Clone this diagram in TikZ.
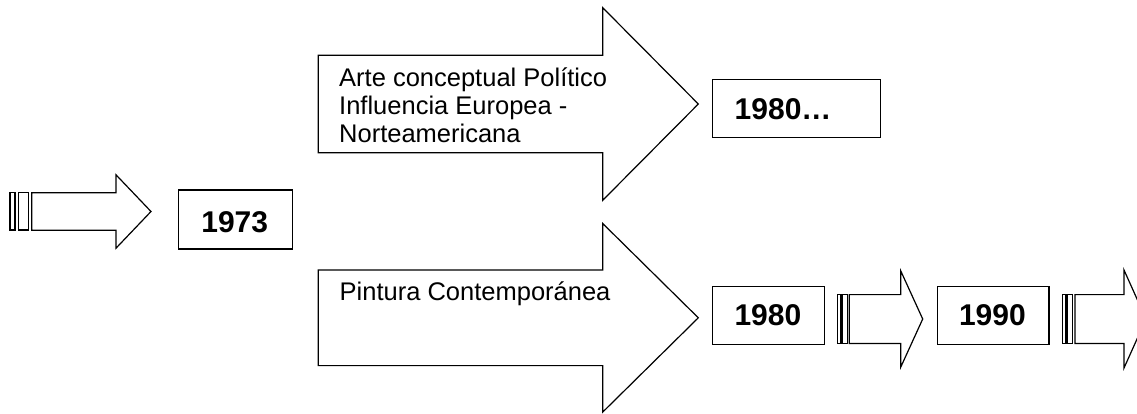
\documentclass[tikz,border=0pt]{standalone}
\usepackage{fontspec}
\setmainfont{Liberation Sans}
\tikzset{
  outl/.style={draw=black, line width=1.2pt, fill=white, line join=miter},
  yearbox/.style={draw=black, line width=1.2pt, fill=white, inner sep=0pt, anchor=north west},
  yeartext/.style={font=\fontsize{30}{36}\selectfont\bfseries, inner sep=0pt, anchor=base},
  labeltext/.style={font=\fontsize{25.5}{28}\selectfont, inner sep=0pt, anchor=base west},
}
% block arrow: x0, x of head base, x of tip, y centre, shaft half height, head half height
\newcommand{\blkarrow}[6]{%
  \draw[outl] (#1,#4-#5) -- (#2,#4-#5) -- (#2,#4-#6) -- (#3,#4) -- (#2,#4+#6) -- (#2,#4+#5) -- (#1,#4+#5) -- cycle;}
\begin{document}
\begin{tikzpicture}[x=1pt,y=-1pt]
\useasboundingbox (0,0) rectangle (1137,413);
\clip (0,0) rectangle (1137,413);

% striped arrow 1
\draw[outl] (10,192.7) rectangle (15,230);
\draw[outl] (18.3,192.7) rectangle (28.3,230);
\blkarrow{31.7}{116}{151}{211.5}{18.7}{36.7}

% 1973 box
\node[yearbox, minimum width=114pt, minimum height=59pt] (b1973) at (177.7,189.3) {};
\node[yeartext] (t1973) at (234.7,232.5) {1973};

% big arrow top
\blkarrow{318.3}{602.7}{698.3}{104}{48.7}{96.3}
\node[labeltext] (l1) at (339,86.7) {Arte conceptual Político};
\node[labeltext] (l2) at (339,114.3) {Influencia Europea -};
\node[labeltext] (l3) at (339,142) {Norteamericana};

% big arrow bottom
\blkarrow{318.3}{602.7}{698.3}{317.8}{47.8}{94.3}
\node[labeltext] (l4) at (339.5,300.6) {Pintura Contemporánea};

% 1980... box
\node[yearbox, minimum width=168.3pt, minimum height=57.7pt] (b1980a) at (711.7,79) {};
\node[yeartext, anchor=base west] (t1980a) at (734.5,119) {1980…};

% 1980 box
\node[yearbox, minimum width=112.3pt, minimum height=57.5pt] (b1980) at (711.7,286) {};
\node[yeartext] (t1980) at (767.9,325.2) {1980};

% striped arrow 2
\draw[outl] (837.3,294.5) rectangle (840.7,343.3);
\draw[outl] (841.9,294.5) rectangle (847.3,343.3);
\blkarrow{849.3}{900.7}{922.7}{319}{24.4}{48.2}

% 1990 box
\node[yearbox, minimum width=111.8pt, minimum height=57.5pt] (b1990) at (936.5,286) {};
\node[yeartext] (t1990) at (992.4,325.2) {1990};

% striped arrow 3
\draw[outl] (1062.3,294.5) rectangle (1066,343.3);
\draw[outl] (1067.3,294.5) rectangle (1072.7,343.3);
\blkarrow{1075}{1124}{1146}{319}{24.4}{49}
\end{tikzpicture}
\end{document}
